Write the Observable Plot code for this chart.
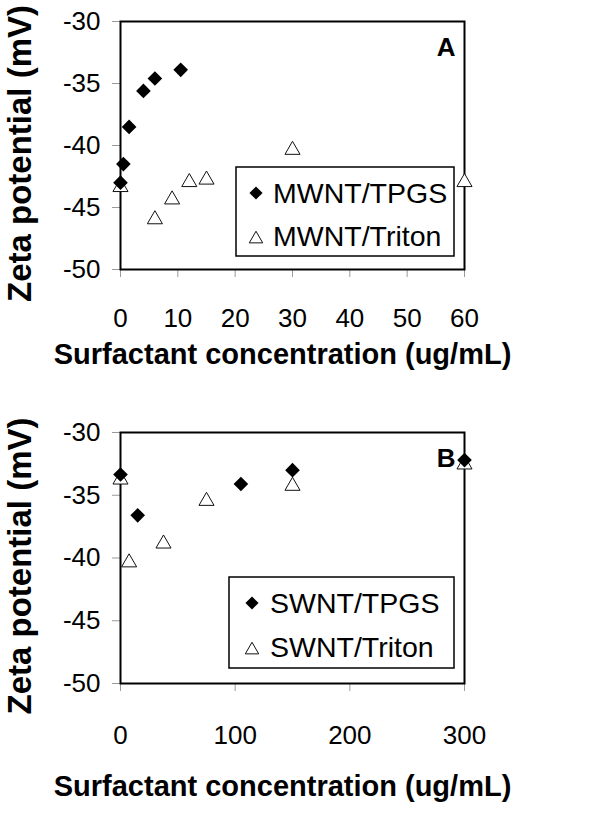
<!DOCTYPE html>
<html><head><meta charset="utf-8">
<script src="https://cdn.jsdelivr.net/npm/d3@7"></script>
<script src="https://cdn.jsdelivr.net/npm/@observablehq/plot@0.6"></script>
<style>
body{margin:0;background:#fff;}
#root{width:603px;}
svg{display:block;}
</style></head><body><div id="root"></div>
<script>
// ---- data ----
const yTicks = [-50, -45, -40, -35, -30];
const xTicksA = [0, 10, 20, 30, 40, 50, 60];
const xTicksB = [0, 100, 200, 300];

const mwntTpgsX = [0, 0.5, 1.5, 4, 6, 10.5];
const mwntTpgsY = [-43.0, -41.5, -38.5, -35.6, -34.6, -33.9];
const mwntTritonX = [0, 6, 9, 12, 15, 30, 60];
const mwntTritonY = [-43.2, -45.8, -44.2, -42.8, -42.6, -40.2, -42.8];

const swntTpgsX = [0, 15, 105, 150, 300];
const swntTpgsY = [-33.35, -36.6, -34.1, -33.0, -32.2];
const swntTritonX = [0, 7.5, 37.5, 75, 150, 300];
const swntTritonY = [-33.6, -40.2, -38.7, -35.3, -34.1, -32.4];

const seriesA = ["MWNT/TPGS", "MWNT/Triton"];
const seriesB = ["SWNT/TPGS", "SWNT/Triton"];
const xTitle = "Surfactant concentration (ug/mL)";
const yTitle = "Zeta potential (mV)";

const FONT = '"Liberation Sans", Arial, sans-serif';

function toRows(xs, ys) { return xs.map((x, i) => ({x, y: ys[i]})); }

function panel(o) {
  const tpgs = toRows(o.tpgsX, o.tpgsY);
  const triton = toRows(o.tritonX, o.tritonY);
  const svg = Plot.plot({
    width: 603, height: o.height,
    marginLeft: 120, marginRight: 139, marginTop: o.marginTop, marginBottom: o.marginBottom,
    style: {fontFamily: FONT, background: "white", color: "black", overflow: "visible"},
    x: {domain: o.xDomain},
    y: {domain: [-50, -30]},
    marks: [
      Plot.axisY({ticks: yTicks, tickFormat: d => String(d), tickSize: 8, tickPadding: 12, fontSize: 26, stroke: "#9a9a9a", fill: "black", label: null}),
      Plot.axisX({ticks: o.xTicks, tickFormat: d => String(d), tickSize: 8, tickPadding: o.tickPadX, fontSize: 26, stroke: "#9a9a9a", fill: "black", label: null}),
      Plot.frame({stroke: "black", strokeWidth: 2}),
      Plot.dot(triton, {x: "x", y: "y", symbol: "triangle", r: 5.6, fill: "white", stroke: "#111", strokeWidth: 1, dy: 2}),
      Plot.dot(tpgs, {x: "x", y: "y", symbol: "diamond2", r: 6.6, fill: "black", stroke: "none"}),
      Plot.text([o.letter], {frameAnchor: "top-right", textAnchor: "end", lineAnchor: "top", dx: -9, dy: 16, fontSize: 26, fontWeight: "bold"}),
      Plot.text([xTitle], {frameAnchor: "bottom", textAnchor: "middle", lineAnchor: "top", dx: -10, dy: o.titleDy, fontSize: 29, fontWeight: "bold"}),
      Plot.text([yTitle], {frameAnchor: "left", textAnchor: "middle", lineAnchor: "top", rotate: -90, dx: -113, dy: 8, fontSize: 33, fontWeight: "bold"})
    ]
  });
  // legend
  const L = o.legend;
  const g = d3.select(svg).append("g").attr("font-family", FONT).attr("text-anchor", "start");
  g.append("rect").attr("x", L.x).attr("y", L.y).attr("width", L.w).attr("height", L.h)
    .attr("fill", "white").attr("stroke", "black").attr("stroke-width", 1.5);
  g.append("path").attr("transform", `translate(${L.sx},${L.r1})`)
    .attr("d", d3.symbol(d3.symbolDiamond2, 110)()).attr("fill", "black");
  g.append("path").attr("transform", `translate(${L.sx},${L.r2 + 2})`)
    .attr("d", d3.symbol(d3.symbolTriangle, 78)()).attr("fill", "white").attr("stroke", "#111").attr("stroke-width", 1);
  g.append("text").attr("x", L.tx).attr("y", L.r1 + 9.5).attr("font-size", 28.5).attr("text-anchor", "start").text(o.names[0]);
  g.append("text").attr("x", L.tx).attr("y", L.r2 + 9).attr("font-size", 28.5).attr("text-anchor", "start").text(o.names[1]);
  return svg;
}

const root = document.getElementById("root");
root.appendChild(panel({
  tpgsX: mwntTpgsX, tpgsY: mwntTpgsY, tritonX: mwntTritonX, tritonY: mwntTritonY,
  xDomain: [0, 60], xTicks: xTicksA, height: 400, marginTop: 21, marginBottom: 131,
  tickPadX: 31, titleDy: 74, letter: "A", names: seriesA,
  legend: {x: 236, y: 167, w: 218, h: 89, sx: 256, tx: 273, r1: 193, r2: 237}
}));
root.appendChild(panel({
  tpgsX: swntTpgsX, tpgsY: swntTpgsY, tritonX: swntTritonX, tritonY: swntTritonY,
  xDomain: [0, 300], xTicks: xTicksB, height: 415, marginTop: 32, marginBottom: 132,
  tickPadX: 34, titleDy: 92, letter: "B", names: seriesB,
  legend: {x: 229, y: 177, w: 225, h: 91, sx: 252, tx: 270, r1: 203, r2: 248}
}));
</script></body></html>
